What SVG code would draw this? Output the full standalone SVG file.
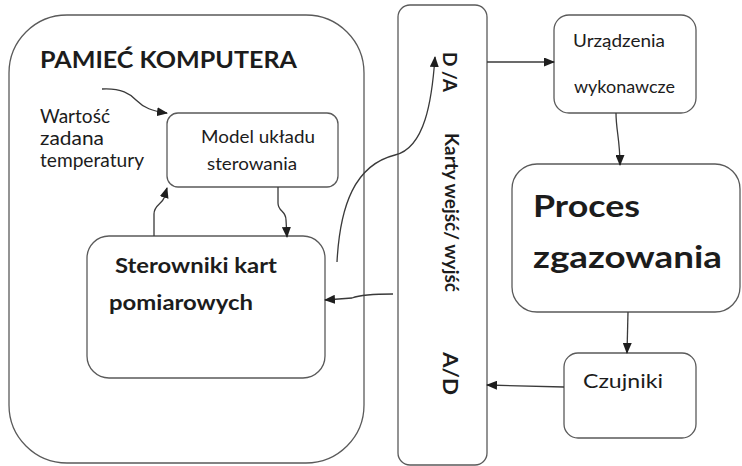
<svg xmlns="http://www.w3.org/2000/svg" width="742" height="466" viewBox="0 0 742 466">
<style>
  .box { fill: #ffffff; stroke: #5a5a5a; stroke-width: 1.3; }
  .con { fill: none; stroke: #3a3a3a; stroke-width: 1.3; marker-end: url(#arr); }
  .t { font-family: Lato, "Open Sans", "Liberation Sans", sans-serif; fill: #1c1c1c; }
  .b { font-weight: bold; }
</style>
<defs>
  <marker id="arr" markerWidth="11" markerHeight="9" refX="10" refY="4.5" orient="auto" markerUnits="userSpaceOnUse">
    <path d="M0,0 L11,4.5 L0,9 z" fill="#1e1e1e"/>
  </marker>
</defs>
<rect width="742" height="466" fill="#ffffff"/>

<g id="pamiec">
  <rect class="box" x="9" y="15" width="355" height="448" rx="58" ry="58"/>
  <text class="t b" x="40" y="68" font-size="23" textLength="257" lengthAdjust="spacingAndGlyphs">PAMIEĆ KOMPUTERA</text>
</g>

<g id="wartosc">
  <text class="t" x="40" y="123" font-size="18.5" textLength="70" lengthAdjust="spacingAndGlyphs">Wartość</text>
  <text class="t" x="40" y="145" font-size="18.5" textLength="64" lengthAdjust="spacingAndGlyphs">zadana</text>
  <text class="t" x="40" y="167" font-size="18.5" textLength="104" lengthAdjust="spacingAndGlyphs">temperatury</text>
</g>

<g id="model">
  <rect class="box" x="167" y="113" width="171" height="74" rx="11" ry="11"/>
  <text class="t" x="201" y="143" font-size="18" textLength="114" lengthAdjust="spacingAndGlyphs">Model układu</text>
  <text class="t" x="207" y="170" font-size="18" textLength="90" lengthAdjust="spacingAndGlyphs">sterowania</text>
</g>

<g id="sterowniki">
  <rect class="box" x="87" y="236" width="238" height="142" rx="22" ry="22"/>
  <text class="t b" x="115" y="273" font-size="21" textLength="162" lengthAdjust="spacingAndGlyphs">Sterowniki kart</text>
  <text class="t b" x="109" y="310" font-size="21" textLength="144" lengthAdjust="spacingAndGlyphs">pomiarowych</text>
</g>

<g id="karty">
  <rect class="box" x="398" y="5" width="89" height="460" rx="12" ry="12"/>
  <text class="t b" transform="translate(443,52) rotate(90)" font-size="19" textLength="40" lengthAdjust="spacingAndGlyphs">D /A</text>
  <text class="t b" transform="translate(445,133) rotate(90)" font-size="18" textLength="159" lengthAdjust="spacingAndGlyphs">Karty wejść/ wyjść</text>
  <text class="t b" transform="translate(443,352) rotate(90)" font-size="20" textLength="43" lengthAdjust="spacingAndGlyphs">A/D</text>
</g>

<g id="urzadzenia">
  <rect class="box" x="554" y="15" width="142" height="98" rx="15" ry="15"/>
  <text class="t" x="573" y="47" font-size="17" textLength="92" lengthAdjust="spacingAndGlyphs">Urządzenia</text>
  <text class="t" x="574" y="93" font-size="17" textLength="101" lengthAdjust="spacingAndGlyphs">wykonawcze</text>
</g>

<g id="proces">
  <rect class="box" x="512" y="164" width="228" height="148" rx="25" ry="25"/>
  <text class="t b" x="533" y="217" font-size="31" textLength="107" lengthAdjust="spacingAndGlyphs">Proces</text>
  <text class="t b" x="533" y="268" font-size="31" textLength="189" lengthAdjust="spacingAndGlyphs">zgazowania</text>
</g>

<g id="czujniki">
  <rect class="box" x="564" y="353" width="132" height="85" rx="14" ry="14"/>
  <text class="t" x="583" y="388" font-size="19" textLength="80" lengthAdjust="spacingAndGlyphs">Czujniki</text>
</g>

<g id="connectors">
  <path class="con" d="M102,89 C122,88 130,94 136,100 C144,108 152,111 167,113"/>
  <path class="con" d="M154,236 L154,214 C154,205 162,204 164,198 L167,188"/>
  <path class="con" d="M278,187 L278,203 C278,212 286,210 286,220 L287,237"/>
  <path class="con" d="M337,262 C340,205 355,165 395,155 C425,148 432,100 435,57"/>
  <path class="con" d="M487,62 L554,62"/>
  <path class="con" d="M616,113 C616,130 620,140 620,165"/>
  <path class="con" d="M628,312 L627,353"/>
  <path class="con" d="M564,387 L487,385"/>
  <path class="con" d="M393,294 C370,294 360,295 352,298 L325,300"/>
</g>
</svg>
